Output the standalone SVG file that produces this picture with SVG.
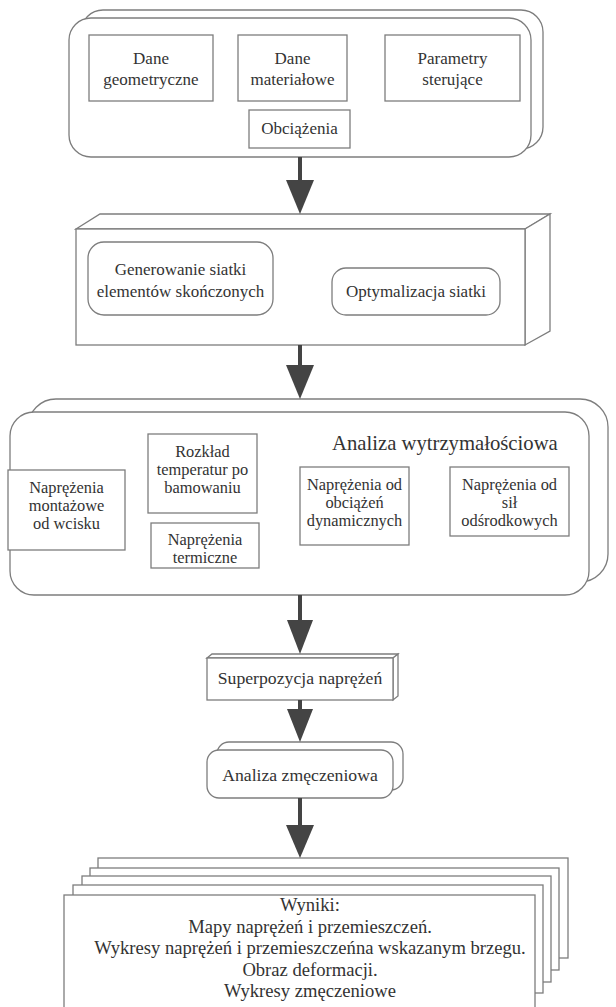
<svg xmlns="http://www.w3.org/2000/svg" width="616" height="1007" viewBox="0 0 616 1007">
  <defs>
    <style>
      .box { fill: #fff; stroke: #7d7d7d; stroke-width: 1.3; }
      .t { font-family: "Liberation Serif", "Times New Roman", serif; font-size: 17px; fill: #333; text-anchor: middle; }
      .in { font-size: 16.4px; }
      .big { font-size: 20.7px; text-anchor: start; }
      .mid { font-size: 17.7px; }
      .res { font-size: 18.6px; }
      .arrow { stroke: #444; stroke-width: 4; fill: none; }
      .head { fill: #444; }
    </style>
  </defs>
  <rect width="616" height="1007" fill="#fff"/>

  <!-- input data -->
  <g id="input">
    <rect class="box" x="81" y="10" width="462" height="139" rx="22"/>
    <rect class="box" x="69" y="18" width="462" height="139" rx="22"/>
    <g id="geo">
      <rect class="box" x="89" y="35" width="124" height="66"/>
      <text class="t" x="151" y="64">Dane</text>
      <text class="t" x="151" y="85">geometryczne</text>
    </g>
    <g id="mat">
      <rect class="box" x="238" y="35" width="109" height="66"/>
      <text class="t" x="292.5" y="64">Dane</text>
      <text class="t" x="292.5" y="85">materiałowe</text>
    </g>
    <g id="param">
      <rect class="box" x="385" y="35" width="135" height="66"/>
      <text class="t" x="452.5" y="64">Parametry</text>
      <text class="t" x="452.5" y="85">sterujące</text>
    </g>
    <g id="loads">
      <rect class="box" x="249" y="110" width="101" height="38"/>
      <text class="t" x="299.5" y="134">Obciążenia</text>
    </g>
  </g>

  <!-- mesh generation -->
  <g id="mesh">
    <polygon class="box" points="76,229 100,214 550,214 525,229"/>
    <polygon class="box" points="525,229 550,214 550,331 525,345"/>
    <rect class="box" x="76" y="229" width="449" height="116"/>
    <g id="gen">
      <rect class="box" x="88" y="242" width="185" height="73" rx="16"/>
      <text class="t" x="180.5" y="275">Generowanie siatki</text>
      <text class="t" x="180.5" y="297">elementów skończonych</text>
    </g>
    <g id="opt">
      <rect class="box" x="332" y="268" width="168" height="47" rx="14"/>
      <text class="t" x="416" y="297">Optymalizacja siatki</text>
    </g>
  </g>

  <!-- strength analysis -->
  <g id="strength">
    <rect class="box" x="28" y="399" width="580" height="183" rx="28"/>
    <rect class="box" x="10" y="412" width="579" height="183" rx="24"/>
    <text class="t big" x="332" y="450">Analiza wytrzymałościowa</text>
    <g id="mount">
      <rect class="box" x="8" y="470" width="117" height="80"/>
      <text class="t in" x="66.5" y="493">Naprężenia</text>
      <text class="t in" x="66.5" y="511">montażowe</text>
      <text class="t in" x="66.5" y="529">od wcisku</text>
    </g>
    <g id="temp">
      <rect class="box" x="148" y="434" width="109" height="79"/>
      <text class="t in" x="202.5" y="457">Rozkład</text>
      <text class="t in" x="202.5" y="475">temperatur po</text>
      <text class="t in" x="202.5" y="493">bamowaniu</text>
    </g>
    <g id="thermal">
      <rect class="box" x="151" y="523" width="108" height="45"/>
      <text class="t in" x="205" y="545">Naprężenia</text>
      <text class="t in" x="205" y="563">termiczne</text>
    </g>
    <g id="dyn">
      <rect class="box" x="300" y="467" width="109" height="78"/>
      <text class="t in" x="354.5" y="490">Naprężenia od</text>
      <text class="t in" x="354.5" y="508">obciążeń</text>
      <text class="t in" x="354.5" y="526">dynamicznych</text>
    </g>
    <g id="centri">
      <rect class="box" x="450" y="467" width="119" height="69"/>
      <text class="t in" x="509.5" y="490">Naprężenia od</text>
      <text class="t in" x="509.5" y="508">sił</text>
      <text class="t in" x="509.5" y="526">odśrodkowych</text>
    </g>
  </g>

  <!-- superposition -->
  <g id="superposition">
    <polygon class="box" points="207,658 212,654 398,654 393,658"/>
    <polygon class="box" points="393,658 398,654 398,696 393,700"/>
    <rect class="box" x="207" y="658" width="186" height="42"/>
    <text class="t mid" x="300" y="684">Superpozycja naprężeń</text>
  </g>

  <!-- fatigue analysis -->
  <g id="fatigue">
    <rect class="box" x="217" y="742" width="186" height="48" rx="12"/>
    <rect class="box" x="207" y="750" width="186" height="48" rx="12"/>
    <text class="t mid" x="300" y="781">Analiza zmęczeniowa</text>
  </g>

  <!-- results -->
  <g id="results">
    <rect class="box" x="98" y="858" width="470" height="100"/>
    <rect class="box" x="90" y="868" width="469" height="102"/>
    <rect class="box" x="82" y="876" width="469" height="106"/>
    <rect class="box" x="73" y="885" width="470" height="108"/>
    <rect class="box" x="64" y="895" width="471" height="125"/>
    <text class="t res" x="310" y="911">Wyniki:</text>
    <text class="t res" x="310" y="933">Mapy naprężeń i przemieszczeń.</text>
    <text class="t res" x="310" y="954">Wykresy naprężeń i przemieszczeńna wskazanym brzegu.</text>
    <text class="t res" x="310" y="976">Obraz deformacji.</text>
    <text class="t res" x="310" y="997">Wykresy zmęczeniowe</text>
  </g>

  <!-- connectors -->
  <g id="connectors">
    <line class="arrow" x1="300" y1="157" x2="300" y2="184"/>
    <polygon class="head" points="286,180 314,180 300,214"/>
    <line class="arrow" x1="300" y1="345" x2="300" y2="368"/>
    <polygon class="head" points="286,365 314,365 300,399"/>
    <line class="arrow" x1="300" y1="595" x2="300" y2="624"/>
    <polygon class="head" points="287,620 313,620 300,654"/>
    <line class="arrow" x1="300" y1="700" x2="300" y2="712"/>
    <polygon class="head" points="287,709 313,709 300,742"/>
    <line class="arrow" x1="300" y1="798" x2="300" y2="828"/>
    <polygon class="head" points="286,825 314,825 300,858"/>
  </g>
</svg>
